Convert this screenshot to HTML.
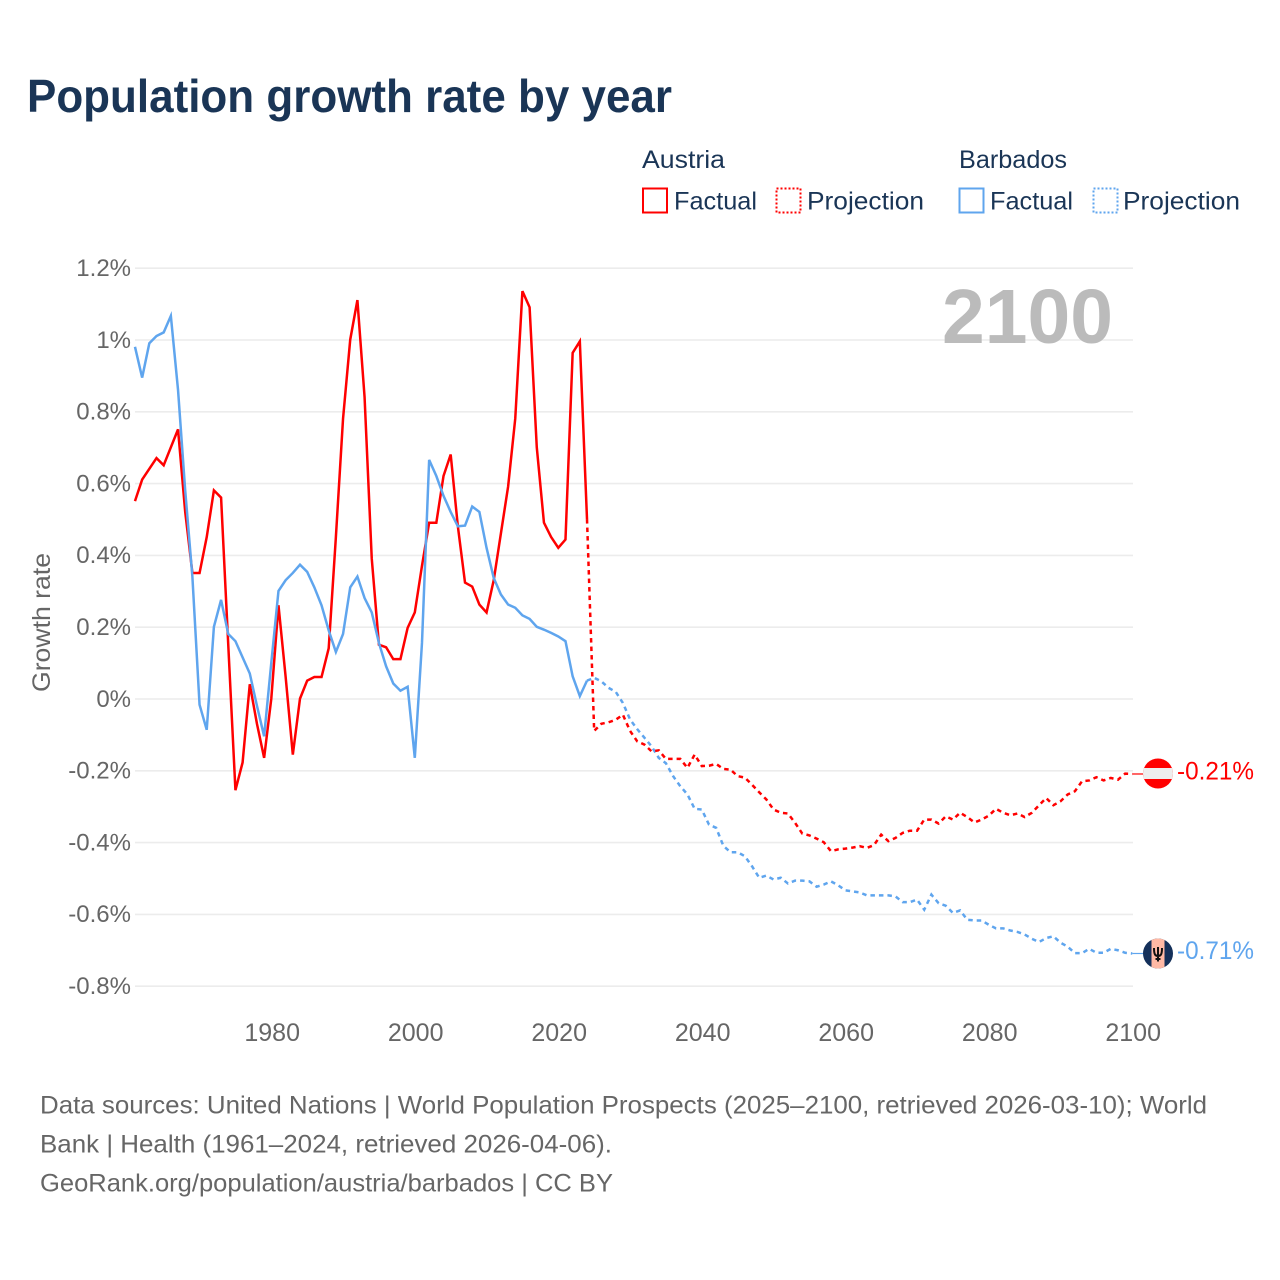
<!DOCTYPE html>
<html lang="en">
<head>
<meta charset="utf-8">
<title>Population growth rate by year</title>
<style>
  html, body { margin: 0; padding: 0; background: #fff; }
  svg { display: block; font-family: "Liberation Sans", sans-serif; }
  .tick { fill: #666; font-size: 24px; }
  .xtick { fill: #666; font-size: 25px; text-anchor: middle; }
  .legend { fill: #1a3556; font-size: 25px; }
  .foot { fill: #666; font-size: 25px; }
</style>
</head>
<body>
<svg id="chart" width="1280" height="1280" viewBox="0 0 1280 1280" xmlns="http://www.w3.org/2000/svg">
  <rect width="1280" height="1280" fill="#fff"/>
  <text x="27" y="112" font-size="46" font-weight="700" fill="#1a3556" textLength="645" lengthAdjust="spacingAndGlyphs">Population growth rate by year</text>

  <g>
    <text class="legend" x="642" y="168" textLength="83" lengthAdjust="spacingAndGlyphs">Austria</text>
    <rect x="643" y="188.5" width="24" height="24" fill="none" stroke="#ff0000" stroke-width="2"/>
    <text class="legend" x="674" y="209.5" textLength="83" lengthAdjust="spacingAndGlyphs">Factual</text>
    <rect x="776.5" y="188.5" width="24" height="24" fill="none" stroke="#ff0000" stroke-width="2" stroke-dasharray="2 2"/>
    <text class="legend" x="807" y="209.5" textLength="117" lengthAdjust="spacingAndGlyphs">Projection</text>
    <text class="legend" x="959" y="168" textLength="108" lengthAdjust="spacingAndGlyphs">Barbados</text>
    <rect x="959.5" y="188.5" width="24" height="24" fill="none" stroke="#5fa5ee" stroke-width="2"/>
    <text class="legend" x="990" y="209.5" textLength="83" lengthAdjust="spacingAndGlyphs">Factual</text>
    <rect x="1093.5" y="188.5" width="24" height="24" fill="none" stroke="#5fa5ee" stroke-width="2" stroke-dasharray="2 2"/>
    <text class="legend" x="1123" y="209.5" textLength="117" lengthAdjust="spacingAndGlyphs">Projection</text>
  </g>

  <g id="grid"></g>
  <g id="ytick-labels"></g>
  <g id="xtick-labels"></g>

  <text x="0" y="0" transform="translate(50,692) rotate(-90)" font-size="25" fill="#666" textLength="139" lengthAdjust="spacingAndGlyphs">Growth rate</text>

  <text x="942" y="343" font-size="77" font-weight="700" fill="#bbbbbb" textLength="171" lengthAdjust="spacingAndGlyphs">2100</text>

  <g id="series"></g>

  <g id="flag-austria">
    <circle cx="1158" cy="773.5" r="15" fill="#ff0000"/>
    <clipPath id="clip-at"><circle cx="1158" cy="773.5" r="15"/></clipPath>
    <rect x="1143" y="768" width="30" height="11" fill="#eeeeee" clip-path="url(#clip-at)"/>
  </g>
  <g id="flag-barbados">
    <circle cx="1158" cy="953.5" r="15" fill="#14305a"/>
    <clipPath id="clip-bb"><circle cx="1158" cy="953.5" r="15"/></clipPath>
    <rect x="1151.5" y="938" width="13" height="31" fill="#ffb9a5" clip-path="url(#clip-bb)"/>
    <path d="M1158 947 V961.5 M1154 948 C1154 954 1155 956 1158 956 C1161 956 1162 954 1162 948 M1155.5 959 H1160.5" fill="none" stroke="#111" stroke-width="2"/>
  </g>

  <text x="1177" y="779.5" font-size="25" fill="#ff0000" textLength="77" lengthAdjust="spacingAndGlyphs">-0.21%</text>
  <text x="1177" y="959" font-size="25" fill="#5fa5ee" textLength="77" lengthAdjust="spacingAndGlyphs">-0.71%</text>

  <g>
    <text class="foot" x="40" y="1113.5" textLength="1167" lengthAdjust="spacingAndGlyphs">Data sources: United Nations | World Population Prospects (2025–2100, retrieved 2026-03-10); World</text>
    <text class="foot" x="40" y="1152.5" textLength="572" lengthAdjust="spacingAndGlyphs">Bank | Health (1961–2024, retrieved 2026-04-06).</text>
    <text class="foot" x="40" y="1191.5" textLength="573" lengthAdjust="spacingAndGlyphs">GeoRank.org/population/austria/barbados | CC BY</text>
  </g>
</svg>
<script>
const yTickValues = [1.2, 1, 0.8, 0.6, 0.4, 0.2, 0, -0.2, -0.4, -0.6, -0.8];
const yTickLabels = ["1.2%", "1%", "0.8%", "0.6%", "0.4%", "0.2%", "0%", "-0.2%", "-0.4%", "-0.6%", "-0.8%"];
const xTickYears = [1980, 2000, 2020, 2040, 2060, 2080, 2100];
const factualStartYear = 1961;
const projectionStartYear = 2024;

const austriaFactual = [0.55,0.61,0.64,0.67,0.65,0.70,0.75,0.52,0.35,0.35,0.45,0.58,0.56,0.15,-0.255,-0.178,0.04,-0.07,-0.165,0,0.26,0.06,-0.156,0,0.05,0.06,0.06,0.14,0.45,0.78,1.0,1.11,0.84,0.39,0.15,0.143,0.11,0.11,0.197,0.24,0.37,0.49,0.49,0.62,0.68,0.48,0.323,0.312,0.262,0.24,0.33,0.46,0.59,0.78,1.135,1.09,0.70,0.49,0.45,0.42,0.443,0.963,0.995,0.50];
const barbadosFactual = [0.98,0.894,0.99,1.01,1.02,1.066,0.86,0.58,0.34,-0.017,-0.087,0.2,0.275,0.18,0.16,0.115,0.07,-0.02,-0.105,0.10,0.30,0.33,0.35,0.373,0.353,0.31,0.26,0.19,0.13,0.18,0.31,0.34,0.28,0.24,0.155,0.09,0.042,0.022,0.033,-0.165,0.155,0.665,0.62,0.565,0.52,0.48,0.482,0.535,0.52,0.42,0.336,0.29,0.262,0.253,0.232,0.222,0.2,0.192,0.183,0.173,0.16,0.062,0.007,0.05];
const austriaProjection = [0.50,-0.09,-0.07,-0.066,-0.059,-0.045,-0.09,-0.119,-0.128,-0.147,-0.144,-0.168,-0.168,-0.168,-0.193,-0.156,-0.188,-0.187,-0.182,-0.196,-0.198,-0.216,-0.22,-0.24,-0.261,-0.281,-0.309,-0.318,-0.32,-0.346,-0.376,-0.381,-0.39,-0.40,-0.425,-0.42,-0.418,-0.415,-0.411,-0.416,-0.408,-0.379,-0.397,-0.388,-0.374,-0.368,-0.368,-0.337,-0.337,-0.348,-0.328,-0.337,-0.318,-0.33,-0.345,-0.337,-0.326,-0.307,-0.318,-0.325,-0.32,-0.33,-0.318,-0.297,-0.277,-0.297,-0.286,-0.267,-0.258,-0.23,-0.228,-0.219,-0.228,-0.221,-0.226,-0.209,-0.21];
const barbadosProjection = [0.05,0.058,0.048,0.03,0.019,-0.012,-0.058,-0.085,-0.109,-0.133,-0.165,-0.18,-0.216,-0.244,-0.267,-0.307,-0.309,-0.351,-0.36,-0.41,-0.428,-0.428,-0.439,-0.467,-0.499,-0.493,-0.504,-0.499,-0.515,-0.507,-0.507,-0.509,-0.524,-0.518,-0.509,-0.52,-0.534,-0.537,-0.54,-0.548,-0.548,-0.548,-0.548,-0.551,-0.567,-0.567,-0.56,-0.588,-0.546,-0.57,-0.577,-0.597,-0.59,-0.616,-0.618,-0.618,-0.63,-0.64,-0.64,-0.646,-0.65,-0.657,-0.669,-0.678,-0.667,-0.662,-0.68,-0.691,-0.709,-0.709,-0.697,-0.708,-0.708,-0.697,-0.701,-0.708,-0.71];

const SVG_NS = "http://www.w3.org/2000/svg";
function xScale(year) { return 271.3 + (year - 1980) * 7.175; }
function yScale(value) { return 698.6 - value * 359; }
function gridY(value) { return 699 - value * 359; }
function linePath(startYear, values) {
  return values.map(function (v, i) {
    return (i ? "L" : "M") + xScale(startYear + i).toFixed(2) + " " + yScale(v).toFixed(2);
  }).join(" ");
}

const grid = document.getElementById("grid");
const yLabels = document.getElementById("ytick-labels");
yTickValues.forEach(function (v, i) {
  const line = document.createElementNS(SVG_NS, "line");
  line.setAttribute("x1", 135);
  line.setAttribute("x2", 1133);
  line.setAttribute("y1", gridY(v));
  line.setAttribute("y2", gridY(v));
  line.setAttribute("stroke", "#ececec");
  line.setAttribute("stroke-width", "1.6");
  
  
  grid.appendChild(line);

  const t = document.createElementNS(SVG_NS, "text");
  t.setAttribute("class", "tick");
  t.setAttribute("x", 131);
  t.setAttribute("y", gridY(v) + 7.8);
  t.setAttribute("text-anchor", "end");
  t.textContent = yTickLabels[i];
  
  
  yLabels.appendChild(t);
});

const xLabels = document.getElementById("xtick-labels");
xTickYears.forEach(function (year) {
  const t = document.createElementNS(SVG_NS, "text");
  t.setAttribute("class", "xtick");
  t.setAttribute("x", xScale(year) + 0.9);
  t.setAttribute("y", 1041);
  t.textContent = String(year);
  
  
  xLabels.appendChild(t);
});

const seriesGroup = document.getElementById("series");
function addLine(startYear, values, color, dashed) {
  const p = document.createElementNS(SVG_NS, "path");
  p.setAttribute("d", linePath(startYear, values));
  p.setAttribute("fill", "none");
  p.setAttribute("stroke", color);
  p.setAttribute("stroke-width", "2.5");
  if (dashed) p.setAttribute("stroke-dasharray", "4.5 4");
  seriesGroup.appendChild(p);
  return p;
}
function addConnector(value, color) {
  const c = document.createElementNS(SVG_NS, "line");
  c.setAttribute("x1", xScale(2100));
  c.setAttribute("x2", 1145);
  c.setAttribute("y1", yScale(value));
  c.setAttribute("y2", yScale(value));
  c.setAttribute("stroke", color);
  c.setAttribute("stroke-width", "1.2");
  seriesGroup.appendChild(c);
  return c;
}

const lineBP = addLine(projectionStartYear, barbadosProjection, "#5fa5ee", true);


const lineAP = addLine(projectionStartYear, austriaProjection, "#ff0000", true);


const lineAF = addLine(factualStartYear, austriaFactual, "#ff0000", false);


const lineBF = addLine(factualStartYear, barbadosFactual, "#5fa5ee", false);


const connA = addConnector(austriaProjection[austriaProjection.length - 1], "#ff0000");


const connB = addConnector(barbadosProjection[barbadosProjection.length - 1], "#5fa5ee");


</script>
</body>
</html>
